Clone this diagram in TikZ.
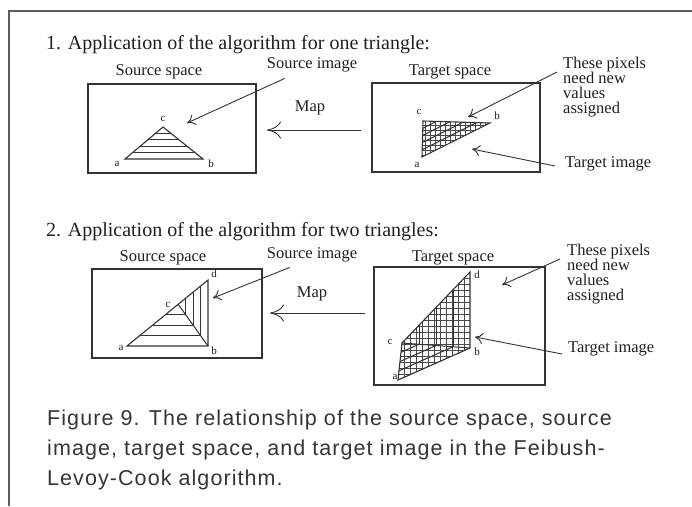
\documentclass[tikz,border=0pt]{standalone}
\usepackage{fontspec}
\setmainfont{Liberation Serif}
\newfontfamily\capfont[LetterSpace=5]{Liberation Sans}
\usetikzlibrary{arrows.meta, calc}
\definecolor{scanink}{HTML}{1F1F1F}
\definecolor{scanline}{HTML}{333333}
\definecolor{scangrid}{HTML}{4A4A4A}
\tikzset{
  frameline/.style={draw=scanline!80, line width=1.4pt},
  spacebox/.style={rectangle, draw=scanline, line width=1.1pt, inner sep=0pt},
  heading/.style={font=\fontsize{20}{22}\selectfont, text=scanink, inner sep=0pt, anchor=west},
  lbl/.style={font=\fontsize{16.5}{18}\selectfont, text=scanink, inner sep=0pt},
  vtx/.style={font=\fontsize{11}{12}\selectfont, text=scanink, inner sep=0pt},
  note/.style={font=\fontsize{16.5}{15}\selectfont, text=scanink, inner sep=0pt, align=left, anchor=north west},
  tri/.style={draw=scanline, line width=1.1pt},
  hatch/.style={draw=scanline, line width=1pt},
  pixgrid/.style={draw=scangrid, line width=0.45pt},
  arr/.style={-{Computer Modern Rightarrow[length=8pt, width=11pt]}, draw=scanline, line width=0.9pt},
  maparr/.style={-{Computer Modern Rightarrow[length=14pt, width=17pt]}, draw=scanline, line width=0.9pt},
  figcap/.style={font=\capfont\fontsize{21.5}{26}\selectfont, text=scanink!90, inner sep=0pt, anchor=base west},
}

\begin{document}
\begin{tikzpicture}[x=1pt, y=-1pt]
  \useasboundingbox (0,0) rectangle (692,506);
  \draw[frameline] (692,11) -- (9,11) -- (9,506);

  % --- one triangle ---
  \node[heading] (head1) at (46,45) {1. Application of the algorithm for one triangle:};
  \node[spacebox, minimum width=168pt, minimum height=89pt] (sbox1) at (172,128.5) {};
  \node[lbl] (sspace1) at (159,72) {Source space};
  \coordinate (sa1) at (125,159);
  \coordinate (sb1) at (203,159);
  \coordinate (sc1) at (163,127);
  \draw[tri] (sa1) -- (sb1) -- (sc1) -- cycle;
  \foreach \t in {0.2,0.4,0.6,0.8}
    \draw[hatch] ($(sa1)!\t!(sc1)$) -- ($(sb1)!\t!(sc1)$);
  \node[vtx] (sa1l) at (117,164) {a};
  \node[vtx] (sb1l) at (211,164) {b};
  \node[vtx] (sc1l) at (163,119) {c};
  \node[lbl] (simg1) at (312,65) {Source image};
  \coordinate (simg1tip) at (187,123);
  \draw[arr] ([shift={(18pt,-6pt)}]simg1.south west) -- (simg1tip);

  \node[lbl] (map1) at (310,108) {Map};
  \coordinate (map1from) at (361,130);
  \coordinate (map1to) at (267,130);
  \draw[maparr] (map1from) -- (map1to);

  \node[spacebox, minimum width=168pt, minimum height=89pt] (tbox1) at (456,127.5) {};
  \node[lbl] (tspace1) at (450,72) {Target space};
  \coordinate (ta1) at (422,157);
  \coordinate (tb1) at (490,123);
  \coordinate (tc1) at (423,121);
  \begin{scope}
    \clip (ta1) -- (tb1) -- (tc1) -- cycle;
    \foreach \gx in {415,420,...,495}
      \draw[pixgrid] (\gx,115) -- (\gx,160);
    \foreach \gy in {115,120,...,160}
      \draw[pixgrid] (415,\gy) -- (495,\gy);
  \end{scope}
  \draw[tri] (ta1) -- (tb1) -- (tc1) -- cycle;
  \foreach \t in {0.2,0.4,0.6,0.8}
    \draw[hatch] ($(ta1)!\t!(tc1)$) -- ($(tb1)!\t!(tc1)$);
  \node[vtx] (ta1l) at (417,165) {a};
  \node[vtx] (tb1l) at (497,116) {b};
  \node[vtx] (tc1l) at (419,112) {c};
  \node[note] (pix1) at (563,57) {These pixels\\need new\\values\\assigned};
  \coordinate (pix1tip) at (468,117);
  \draw[arr] ([shift={(-6pt,-15pt)}]pix1.north west) -- (pix1tip);
  \node[lbl, anchor=west] (timg1) at (565,164) {Target image};
  \coordinate (timg1tip) at (472,149);
  \draw[arr] ([shift={(-10pt,-2pt)}]timg1.west) -- (timg1tip);

  % --- two triangles ---
  \node[heading] (head2) at (46,232) {2. Application of the algorithm for two triangles:};
  \node[spacebox, minimum width=170pt, minimum height=89pt] (sbox2) at (177,313.5) {};
  \node[lbl] (sspace2) at (163,258) {Source space};
  \coordinate (sa2) at (127,346);
  \coordinate (sb2) at (208,346);
  \coordinate (sd2) at (208,280);
  \coordinate (sc2) at (178,304);
  \draw[tri] (sa2) -- (sb2) -- (sd2) -- cycle;
  \draw[hatch] (sc2) -- (sb2);
  \foreach \t in {0.25,0.5,0.75} {
    \draw[hatch] ($(sa2)!\t!(sc2)$) -- ($(sb2)!\t!(sc2)$);
    \draw[hatch] ($(sc2)!\t!(sd2)$) -- ($(sc2)!\t!(sb2)$);
  }
  \node[vtx] (sa2l) at (121,348) {a};
  \node[vtx] (sb2l) at (214,351) {b};
  \node[vtx] (sc2l) at (168,305) {c};
  \node[vtx] (sd2l) at (214,274) {d};
  \node[lbl] (simg2) at (312,255) {Source image};
  \coordinate (simg2tip) at (213,298);
  \draw[arr] ([shift={(23pt,-5pt)}]simg2.south west) -- (simg2tip);

  \node[lbl] (map2) at (312,294) {Map};
  \coordinate (map2from) at (365,313);
  \coordinate (map2to) at (270,313);
  \draw[maparr] (map2from) -- (map2to);

  \node[spacebox, minimum width=171pt, minimum height=118pt] (tbox2) at (459.5,326) {};
  \node[lbl] (tspace2) at (453,258) {Target space};
  \coordinate (ta2) at (398,380);
  \coordinate (tb2) at (470,348);
  \coordinate (td2) at (470,272);
  \coordinate (tc2) at (402,343);
  \begin{scope}
    \clip (ta2) -- (tb2) -- (td2) -- (tc2) -- cycle;
    \foreach \gx in {392,398,...,476}
      \draw[pixgrid] (\gx,266) -- (\gx,386);
    \foreach \gy in {266,272,...,386}
      \draw[pixgrid] (392,\gy) -- (476,\gy);
  \end{scope}
  \draw[tri] (ta2) -- (tb2) -- (td2) -- (tc2) -- cycle;
  \draw[hatch] (tc2) -- (tb2);
  \foreach \t in {0.25,0.5,0.75} {
    \draw[hatch] ($(ta2)!\t!(tc2)$) -- ($(tb2)!\t!(tc2)$);
    \draw[hatch] ($(tc2)!\t!(td2)$) -- ($(tc2)!\t!(tb2)$);
  }
  \node[vtx] (ta2l) at (395,377) {a};
  \node[vtx] (tb2l) at (477,352) {b};
  \node[vtx] (tc2l) at (390,342) {c};
  \node[vtx] (td2l) at (477,275) {d};
  \node[note] (pix2) at (567,244) {These pixels\\need new\\values\\assigned};
  \coordinate (pix2tip) at (502,285);
  \draw[arr] ([shift={(-7pt,-15pt)}]pix2.north west) -- (pix2tip);
  \node[lbl, anchor=west] (timg2) at (568,349) {Target image};
  \coordinate (timg2tip) at (475,337);
  \draw[arr] ([shift={(-6pt,-5pt)}]timg2.west) -- (timg2tip);

  % --- caption ---
  \node[figcap] (cap1) at (47,425) {Figure 9. The relationship of the source space, source};
  \node[figcap] (cap2) at (47,455) {image, target space, and target image in the Feibush-};
  \node[figcap] (cap3) at (47,485) {Levoy-Cook algorithm.};
\end{tikzpicture}
\end{document}
